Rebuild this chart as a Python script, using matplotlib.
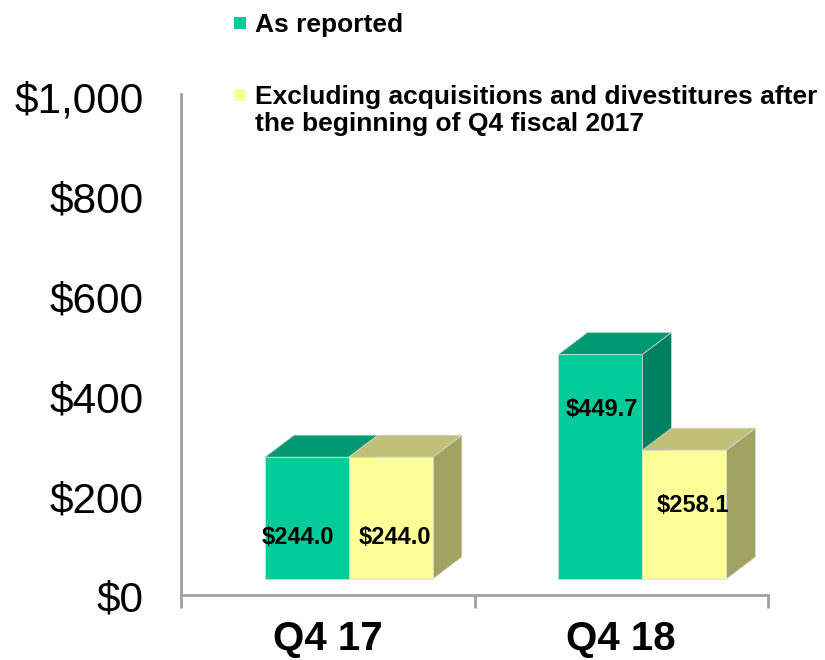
import matplotlib
matplotlib.use("Agg")
import matplotlib.pyplot as plt
from matplotlib.patches import Polygon, Rectangle

plt.rcParams['font.family'] = ['Liberation Sans', 'DejaVu Sans']

# ---- data ----
categories = ["Q4 17", "Q4 18"]
as_reported = [244.0, 449.7]
excluding = [244.0, 258.1]
series_names = [["As reported"],
                ["Excluding acquisitions and divestitures after",
                 "the beginning of Q4 fiscal 2017"]]
yticks = [0, 200, 400, 600, 800, 1000]
ytick_labels = ["$0", "$200", "$400", "$600", "$800", "$1,000"]

# ---- style / layout ----
W, H = 825, 660
front_cols = ["#00CC99", "#FFFF99"]
top_cols = ["#009973", "#C0C07A"]
side_cols = ["#008060", "#A2A262"]
bar_w = 0.286
bar_x0 = [-0.214, 0.072]           # offsets of the two bars from category centre
depth_dx, depth_dy = 0.099, 44     # pseudo-3D depth (x units, value units)
floor = 35                          # front faces start above the wall base
label_dx = [[-0.03, 0.015], [0.005, 0.03]]
label_y = [[119, 119], [375, 183]]

fig = plt.figure(figsize=(W / 100, H / 100), dpi=100)
ax_l, ax_r, ax_b, ax_t = 181, 768, 596.5, 94
ax = fig.add_axes([ax_l / W, (H - ax_b) / H, (ax_r - ax_l) / W, (ax_b - ax_t) / H])
ax.set_xlim(-0.5, 1.5)
ax.set_ylim(0, 1006)

for s in ["top", "right"]:
    ax.spines[s].set_visible(False)
ax.spines["bottom"].set_position(("data", 3))
ax.spines["left"].set_bounds(3, 1006)
for s in ["left", "bottom"]:
    ax.spines[s].set_color("#a0a0a0")
    ax.spines[s].set_linewidth(2.0)

ax.set_yticks(yticks)
ax.set_yticklabels(ytick_labels, fontsize=30.5)
ax.tick_params(axis="y", length=0, pad=27)

ax.set_xticks(range(len(categories)))
ax.set_xticklabels(categories, fontsize=29, fontweight="bold")
ax.set_xticks([-0.5, 0.5, 1.5], minor=True)
ax.tick_params(axis="x", which="major", length=0, pad=18)
ax.tick_params(axis="x", which="minor", length=9, width=2, color="#a0a0a0", direction="out")

series = [as_reported, excluding]
for ci in range(len(categories)):
    for si, vals in enumerate(series):
        v = vals[ci]
        x0 = ci + bar_x0[si]
        b = floor
        t = floor + v
        side = Polygon([(x0 + bar_w, b), (x0 + bar_w + depth_dx, b + depth_dy),
                        (x0 + bar_w + depth_dx, t + depth_dy), (x0 + bar_w, t)],
                       closed=True, facecolor=side_cols[si], edgecolor="#d8d8d8", lw=0.5)
        top = Polygon([(x0, t), (x0 + bar_w, t), (x0 + bar_w + depth_dx, t + depth_dy),
                       (x0 + depth_dx, t + depth_dy)],
                      closed=True, facecolor=top_cols[si], edgecolor="#d8d8d8", lw=0.5)
        front = Rectangle((x0, b), bar_w, v, facecolor=front_cols[si],
                          edgecolor="#d8d8d8", lw=0.5)
        for p in (side, top, front):
            ax.add_patch(p)
        ax.text(x0 + bar_w / 2 + label_dx[ci][si], label_y[ci][si], f"${v:,.1f}",
                ha="center", va="center", fontsize=17, fontweight="bold", color="black")

# legend
leg_sq = [(234, 17), (234, 89)]
leg_base = [32, 104]
line_gap = 27
for i, lines in enumerate(series_names):
    sx, sy = leg_sq[i]
    fig.patches.append(Rectangle((sx / W, 1 - (sy + 12) / H), 12 / W, 12 / H,
                                 transform=fig.transFigure, facecolor=front_cols[i],
                                 edgecolor="none"))
    for k, line in enumerate(lines):
        fig.text(255 / W, 1 - (leg_base[i] + k * line_gap) / H, line, ha="left",
                 va="baseline", fontsize=19, fontweight="bold")

fig.savefig("out.png", dpi=100)
